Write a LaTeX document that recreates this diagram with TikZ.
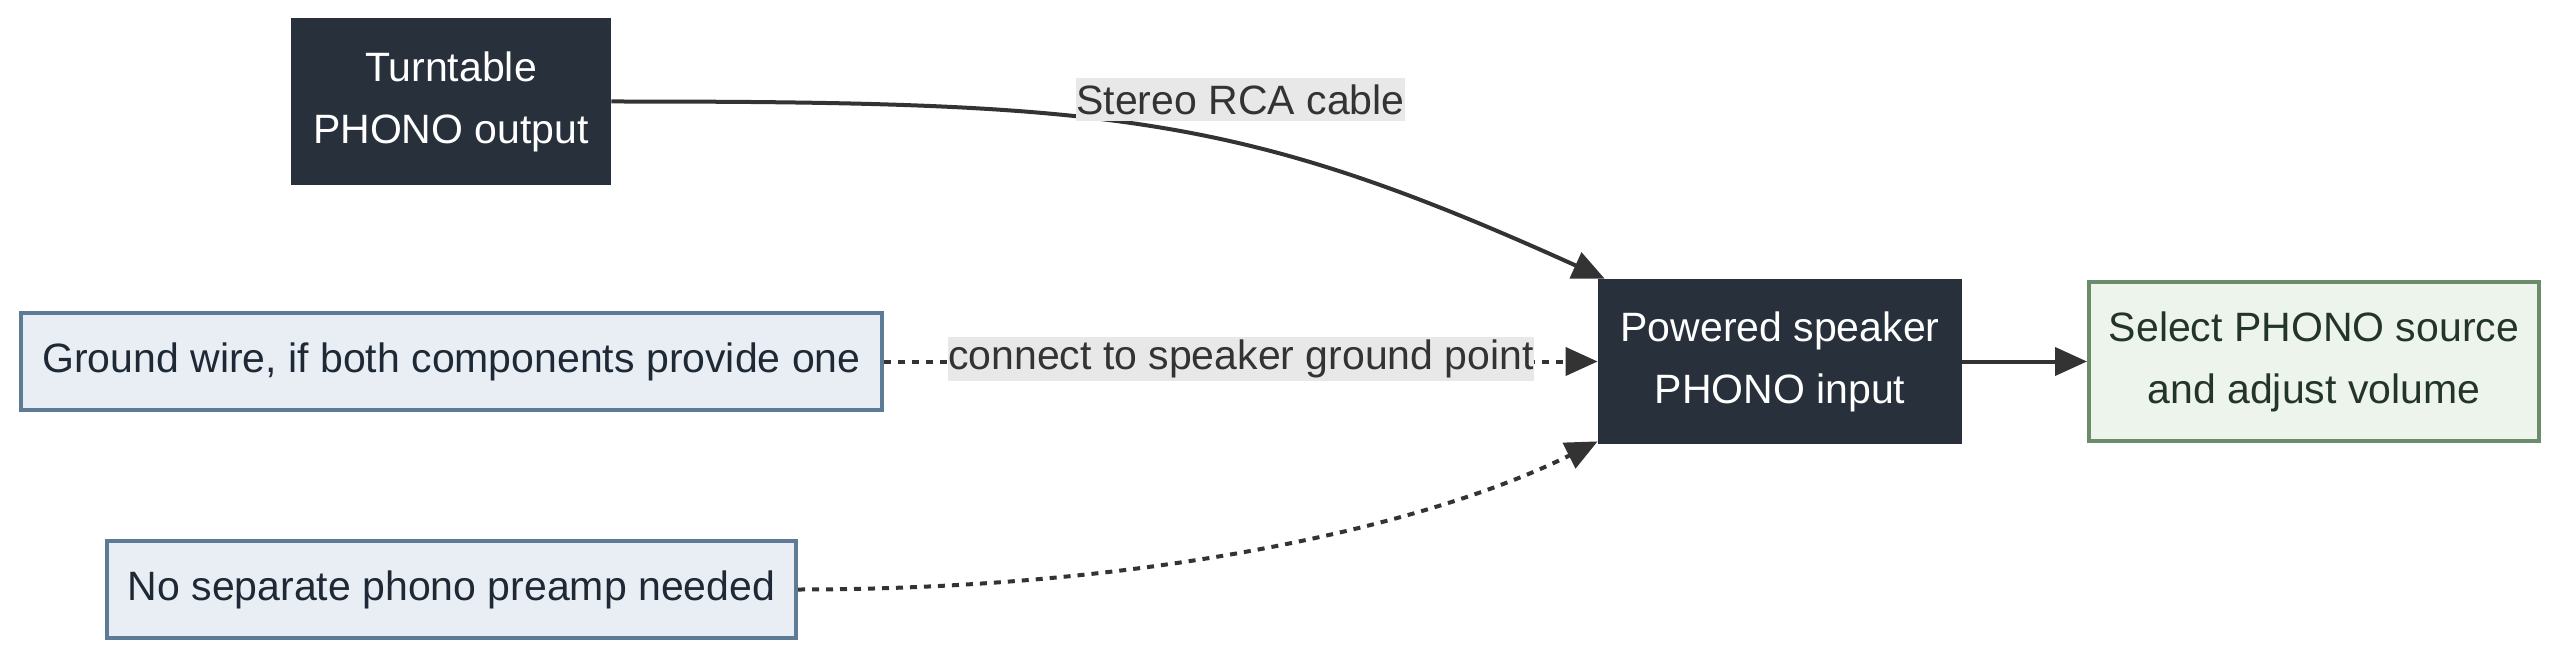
\documentclass[tikz,border=0pt]{standalone}
\usepackage{fontspec}
\setmainfont{Liberation Sans}
\usepackage{tikz}
\usepackage{xcolor}
\usetikzlibrary{arrows.meta, positioning}
\definecolor{darkbox}{HTML}{28313B}
\definecolor{bluefill}{HTML}{E8EEF3}
\definecolor{blueline}{HTML}{5D7B95}
\definecolor{bluetext}{HTML}{1E2935}
\definecolor{greenfill}{HTML}{EDF4EC}
\definecolor{greenline}{HTML}{6B8C6B}
\definecolor{greentext}{HTML}{23352A}
\definecolor{wirecol}{HTML}{333333}
\definecolor{labelfill}{HTML}{E8E8E8}
\tikzstyle{darknode} = [fill=darkbox, text=white, align=center, inner sep=0pt, font=\fontsize{20.5pt}{31pt}\selectfont]
\tikzstyle{bluenode} = [fill=bluefill, draw=blueline, line width=2pt, text=bluetext, align=center, inner sep=0pt, font=\fontsize{20.5pt}{31pt}\selectfont]
\tikzstyle{greennode} = [fill=greenfill, draw=greenline, line width=2pt, text=greentext, align=center, inner sep=0pt, font=\fontsize{20.5pt}{31pt}\selectfont]
\tikzstyle{edgelabel} = [fill=labelfill, text=wirecol, inner xsep=0pt, inner ysep=0pt, minimum height=21.5pt, font=\fontsize{20.5pt}{24pt}\selectfont]
\tikzstyle{wire} = [draw=wirecol, line width=2pt, ->]
\tikzstyle{dotwire} = [draw=wirecol, line width=2pt, dash pattern=on 3.5pt off 3.5pt, ->]

\begin{document}
\begin{tikzpicture}[x=0.5pt, y=-0.5pt, >={Triangle[length=16pt, width=14pt]}]
\useasboundingbox (0,0) rectangle (2560,663);

% Define the boxes
\node[darknode, minimum width=160pt, minimum height=83.5pt] (turntable) at (451,101.5) {Turntable \\ PHONO output};
\node[bluenode, minimum width=430.5pt, minimum height=48.5pt] (ground) at (451.5,361.5) {Ground wire, if both components provide one};
\node[bluenode, minimum width=344.5pt, minimum height=48.5pt] (preamp) at (451.5,589.5) {No separate phono preamp needed};
\node[darknode, minimum width=182pt, minimum height=82.5pt] (speaker) at (1780,361.5) {Powered speaker \\ PHONO input};
\node[greennode, minimum width=225pt, minimum height=79.5pt] (select) at (2314,361.5) {Select PHONO source \\ and adjust volume};

% Add arrows between the boxes
\draw[wire] (turntable.east) .. controls (1111,101.5) and (1241,114) .. ([xshift=3.5pt]speaker.north west);
\draw[dotwire] (ground.east) -- (speaker.west);
\draw[dotwire] (preamp.east) .. controls (1150,589.5) and (1430,525) .. ([yshift=1.5pt]speaker.south west);
\draw[wire] (speaker.east) -- (select.west);

% Edge labels
\node[edgelabel] (cablelabel) at (1240.5,100) {Stereo RCA cable};
\node[edgelabel] (groundlabel) at (1241,359) {connect to speaker ground point};

\end{tikzpicture}
\end{document}
